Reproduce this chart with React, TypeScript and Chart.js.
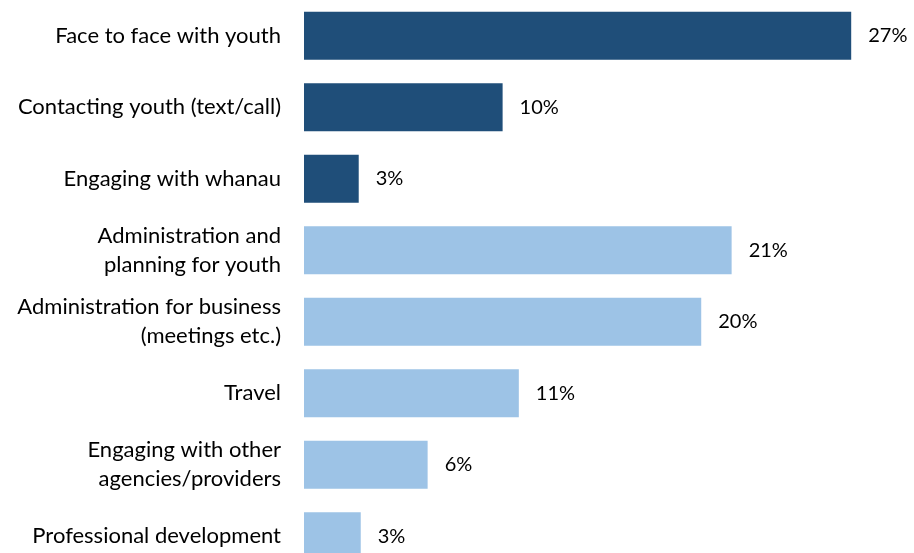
import React, { useEffect, useRef } from "react";
import { Chart, registerables } from "chart.js";

Chart.register(...registerables);

const categories: (string | string[])[] = [
  "Face to face with youth",
  "Contacting youth (text/call)",
  "Engaging with whanau",
  ["Administration and", "planning for youth"],
  ["Administration for business", "(meetings etc.)"],
  "Travel",
  ["Engaging with other", "agencies/providers"],
  "Professional development",
];

const values = [27, 9.8, 2.7, 21.1, 19.6, 10.6, 6.1, 2.8];
const valueLabels = ["27%", "10%", "3%", "21%", "20%", "11%", "6%", "3%"];
const darkCount = 3;

const DARK = "#1F4E79";
const LIGHT = "#9DC3E6";
const FONT = "Lato";

const dataLabelPlugin = {
  id: "dataLabels",
  afterDatasetsDraw(chart: any) {
    const ctx = chart.ctx;
    const meta = chart.getDatasetMeta(0);
    ctx.save();
    ctx.font = `20px ${FONT}`;
    ctx.fillStyle = "#000000";
    ctx.textAlign = "left";
    ctx.textBaseline = "middle";
    meta.data.forEach((bar: any, i: number) => {
      ctx.fillText(valueLabels[i], bar.x + 17, bar.y);
    });
    ctx.restore();
  },
};

export default function App() {
  const canvasRef = useRef<HTMLCanvasElement | null>(null);

  useEffect(() => {
    if (!canvasRef.current) return;
    const chart = new Chart(canvasRef.current, {
      type: "bar",
      data: {
        labels: categories,
        datasets: [
          {
            data: values,
            backgroundColor: values.map((_, i) => (i < darkCount ? DARK : LIGHT)),
            borderWidth: 0,
            categoryPercentage: 1,
            barPercentage: 0.672,
          },
        ],
      },
      options: {
        indexAxis: "y",
        animation: false,
        responsive: false,
        maintainAspectRatio: false,
        layout: { padding: { left: 0, right: 2, top: 0, bottom: 0 } },
        plugins: {
          legend: { display: false },
          tooltip: { enabled: false },
        },
        scales: {
          x: {
            display: false,
            min: 0,
            max: 30,
          },
          y: {
            afterFit: (scale: any) => {
              scale.width = 304;
              scale.paddingTop = 0;
              scale.paddingBottom = 0;
            },
            grid: { display: false, drawTicks: false },
            border: { display: false },
            ticks: {
              padding: 23,
              color: "#000000",
              font: { family: FONT, size: 22, lineHeight: 1.33 },
            },
          },
        },
      },
      plugins: [dataLabelPlugin],
    });
    return () => chart.destroy();
  }, []);

  return (
    <div
      style={{
        position: "fixed",
        left: 0,
        top: 0,
        width: 914,
        height: 553,
        overflow: "hidden",
        background: "#ffffff",
      }}
    >
      <canvas ref={canvasRef} width={914} height={572} style={{ display: "block" }} />
    </div>
  );
}
